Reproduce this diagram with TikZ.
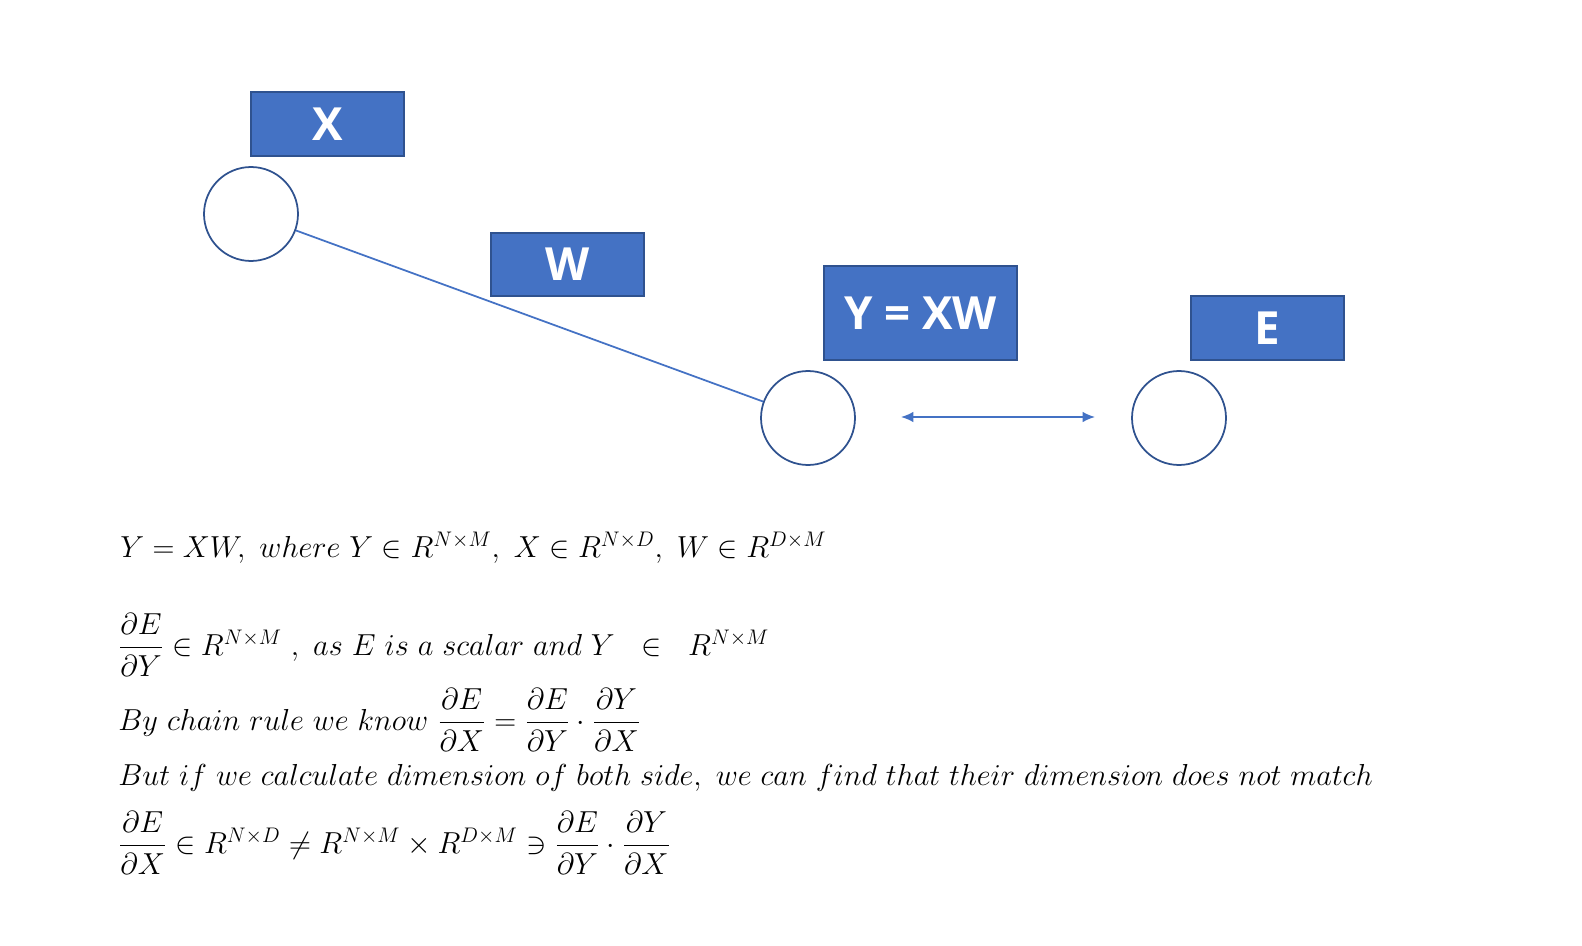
\documentclass[tikz,border=0pt]{standalone}
\usepackage{amsmath}
\usepackage{fontspec}
\newfontfamily\boxfont{Open Sans}
\usetikzlibrary{arrows.meta}
\definecolor{bfill}{HTML}{4472C4}
\definecolor{bdraw}{HTML}{2F528F}
\begin{document}
\begin{tikzpicture}[x=0.02cm,y=-0.02cm,
  lbox/.style={draw=bdraw,fill=bfill,line width=1pt,text=white,font=\boxfont\bfseries\fontsize{26}{30}\selectfont},
  nd/.style={circle,draw=bdraw,line width=1pt,minimum size=1.88cm,inner sep=0pt},
  eq/.style={anchor=west,inner sep=0pt,font=\fontsize{17}{20}\selectfont}]
\useasboundingbox (0,0) rectangle (1582,946);
\node[lbox,minimum width=3.06cm,minimum height=1.28cm] (bx) at (327.5,124) {X};
\node[lbox,minimum width=3.06cm,minimum height=1.26cm] (bw) at (567.5,264.5) {W};
\node[lbox,minimum width=3.86cm,minimum height=1.88cm] (by) at (920.5,313) {Y = XW};
\node[lbox,minimum width=3.06cm,minimum height=1.28cm] (be) at (1267.5,328) {E};
\node[nd] (c1) at (251,214) {};
\node[nd] (c2) at (808,418) {};
\node[nd] (c3) at (1179,418) {};
\draw[bfill,line width=1pt] (c1) -- (c2);
\coordinate (a1) at (901,417);
\coordinate (a2) at (1095,417);
\draw[bfill,line width=1pt,{Latex[length=7pt,width=6pt]}-{Latex[length=7pt,width=6pt]}] (a1) -- (a2);
\node[eq] (e1) at (120,548) {$Y=XW,\ where\ Y\in R^{N\times M},\ X\in R^{N\times D},\ W\in R^{D\times M}$};
\node[eq] (e2) at (118,645) {$\dfrac{\partial E}{\partial Y}\in R^{N\times M}\ ,\ as\ E\ is\ a\ scalar\ and\ Y\ \ \in\ \ R^{N\times M}$};
\node[eq] (e3) at (118,720) {$By\ chain\ rule\ we\ know\ \dfrac{\partial E}{\partial X}=\dfrac{\partial E}{\partial Y}\cdot\dfrac{\partial Y}{\partial X}$};
\node[eq] (e4) at (118,778) {$But\ if\ we\ calculate\ dimension\ of\ both\ side,\ we\ can\ find\ that\ their\ dimension\ does\ not\ match$};
\node[eq] (e5) at (118,843) {$\dfrac{\partial E}{\partial X}\in R^{N\times D}\neq R^{N\times M}\times R^{D\times M}\ni\dfrac{\partial E}{\partial Y}\cdot\dfrac{\partial Y}{\partial X}$};
\end{tikzpicture}
\end{document}
